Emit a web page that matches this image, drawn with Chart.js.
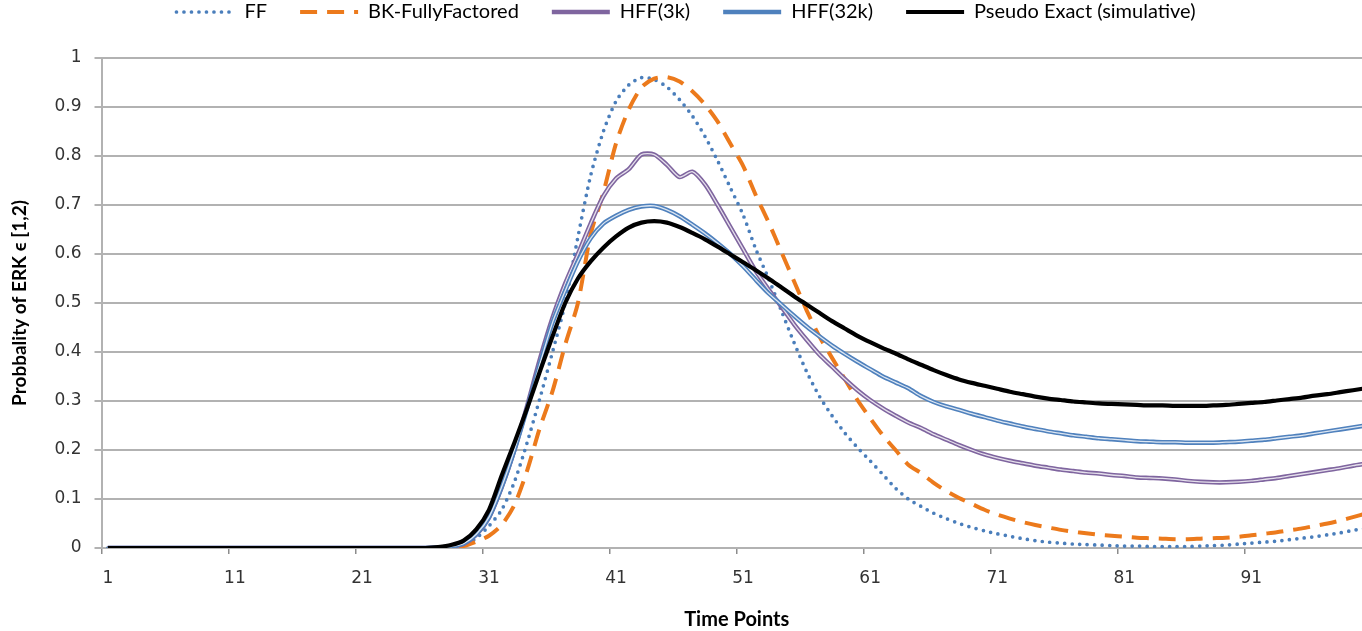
<!DOCTYPE html>
<html>
<head>
<meta charset="utf-8">
<script src="https://cdn.jsdelivr.net/npm/chart.js@4.4.1/dist/chart.umd.min.js"></script>
<style>
    html, body { margin: 0; padding: 0; background: #fff; overflow: hidden; width: 1362px; height: 631px; }
    #wrap { position: absolute; left: 0; top: -31px; width: 1380px; height: 662px; }
</style>
</head>
<body>
<div id="wrap"><canvas id="myChart" width="1380" height="662"></canvas></div>
<script>
// Dados //
const timePoints = Array.from({ length: 100 }, (_, i) => String(i + 1));

const ff = [
    0, 0, 0, 0, 0, 0, 0, 0, 0, 0,
    0, 0, 0, 0, 0, 0, 0, 0, 0, 0,
    0, 0, 0, 0, 0, 0, 0, 0.001, 0.005, 0.02,
    0.045, 0.078, 0.135, 0.215, 0.305, 0.4, 0.5, 0.635, 0.76, 0.85,
    0.912, 0.945, 0.96, 0.956, 0.941, 0.915, 0.882, 0.84, 0.79, 0.735,
    0.68, 0.61, 0.55, 0.485, 0.42, 0.36, 0.31, 0.27, 0.235, 0.205,
    0.178, 0.15, 0.122, 0.1, 0.085, 0.071, 0.06, 0.05, 0.042, 0.035,
    0.029, 0.024, 0.019, 0.015, 0.012, 0.01, 0.008, 0.007, 0.006, 0.005,
    0.004, 0.004, 0.003, 0.003, 0.003, 0.003, 0.004, 0.005, 0.006, 0.008,
    0.01, 0.012, 0.014, 0.017, 0.02, 0.023, 0.027, 0.031, 0.036, 0.04
];

const bkFullyFactored = [
    0, 0, 0, 0, 0, 0, 0, 0, 0, 0,
    0, 0, 0, 0, 0, 0, 0, 0, 0, 0,
    0, 0, 0, 0, 0, 0, 0, 0, 0.004, 0.013,
    0.025, 0.047, 0.088, 0.158, 0.245, 0.32, 0.415, 0.5, 0.64, 0.725,
    0.826, 0.895, 0.94, 0.958, 0.961, 0.952, 0.932, 0.905, 0.87, 0.825,
    0.78, 0.72, 0.665, 0.605, 0.545, 0.485, 0.432, 0.388, 0.345, 0.302,
    0.265, 0.23, 0.2, 0.17, 0.153, 0.133, 0.116, 0.102, 0.09, 0.078,
    0.068, 0.06, 0.053, 0.047, 0.042, 0.037, 0.033, 0.03, 0.027, 0.025,
    0.023, 0.021, 0.02, 0.019, 0.018, 0.018, 0.019, 0.02, 0.021, 0.023,
    0.026, 0.029, 0.032, 0.036, 0.04, 0.045, 0.05, 0.056, 0.063, 0.07
];

const hff3k = [
    0, 0, 0, 0, 0, 0, 0, 0, 0, 0,
    0, 0, 0, 0, 0, 0, 0, 0, 0, 0,
    0, 0, 0, 0, 0, 0, 0.001, 0.003, 0.008, 0.027,
    0.062, 0.124, 0.2, 0.29, 0.385, 0.47, 0.54, 0.6, 0.662, 0.718,
    0.754, 0.773, 0.803, 0.803, 0.782, 0.757, 0.768, 0.742, 0.7, 0.655,
    0.61, 0.565, 0.528, 0.493, 0.457, 0.425, 0.395, 0.37, 0.345, 0.322,
    0.302, 0.285, 0.27, 0.256, 0.245, 0.232, 0.221, 0.21, 0.2, 0.191,
    0.184, 0.178, 0.173, 0.168, 0.164, 0.16, 0.157, 0.154, 0.152, 0.149,
    0.147, 0.144, 0.143, 0.142, 0.14, 0.137, 0.135, 0.134, 0.134, 0.135,
    0.137, 0.14, 0.143, 0.147, 0.151, 0.155, 0.159, 0.163, 0.168, 0.172
];

const hff32k = [
    0, 0, 0, 0, 0, 0, 0, 0, 0, 0,
    0, 0, 0, 0, 0, 0, 0, 0, 0, 0,
    0, 0, 0, 0, 0, 0, 0.001, 0.003, 0.009, 0.028,
    0.063, 0.125, 0.2, 0.285, 0.375, 0.46, 0.525, 0.585, 0.632, 0.662,
    0.678, 0.69, 0.697, 0.698, 0.69, 0.677, 0.66, 0.642, 0.622, 0.6,
    0.575, 0.547, 0.52, 0.497, 0.474, 0.452, 0.432, 0.413, 0.396, 0.38,
    0.365, 0.35, 0.338, 0.326, 0.31, 0.298, 0.289, 0.282, 0.274, 0.267,
    0.26, 0.254, 0.248, 0.243, 0.238, 0.234, 0.23, 0.227, 0.224, 0.222,
    0.22, 0.218, 0.217, 0.216, 0.216, 0.215, 0.215, 0.215, 0.216, 0.217,
    0.219, 0.221, 0.224, 0.227, 0.23, 0.234, 0.238, 0.242, 0.246, 0.25
];

const pseudoExact = [
    0, 0, 0, 0, 0, 0, 0, 0, 0, 0,
    0, 0, 0, 0, 0, 0, 0, 0, 0, 0,
    0, 0, 0, 0, 0, 0, 0.002, 0.006, 0.015, 0.038,
    0.078, 0.148, 0.215, 0.285, 0.36, 0.432, 0.5, 0.55, 0.585, 0.613,
    0.636, 0.654, 0.664, 0.667, 0.664, 0.655, 0.643, 0.63, 0.615, 0.599,
    0.583, 0.567, 0.55, 0.532, 0.514, 0.497, 0.48, 0.463, 0.448, 0.433,
    0.42, 0.408, 0.397, 0.385, 0.374, 0.363, 0.353, 0.344, 0.337, 0.331,
    0.325, 0.319, 0.314, 0.309, 0.305, 0.302, 0.299, 0.297, 0.295, 0.294,
    0.293, 0.292, 0.291, 0.291, 0.29, 0.29, 0.29, 0.291, 0.292, 0.294,
    0.296, 0.298, 0.301, 0.304, 0.307, 0.311, 0.314, 0.318, 0.322, 0.326
];

const labelStep = 10;
const gridGray = '#B2B2B2';

// legenda mais alta, para deixar espaco ate o grafico
const legendGap = {
    id: 'legendGap',
    beforeLayout(chart) {
        const lg = chart.legend;
        if (lg && !lg._gapPatched) {
            const fit = lg.fit;
            lg.fit = function () { fit.call(this); this.height = 89; };
            lg._gapPatched = true;
        }
    }
};

// amostras da legenda com o mesmo traco das linhas
function legendLabels(chart) {
    const items = Chart.defaults.plugins.legend.labels.generateLabels(chart);
    items.forEach(it => {
        const ds = chart.data.datasets[it.datasetIndex];
        it.lineDash = ds.borderDash || [];
        it.lineCap = ds.borderCapStyle || 'butt';
        it.lineWidth = ds.borderWidth;
        it.strokeStyle = ds.borderColor;
        it.pointStyle = 'line';
    });
    return items;
}

const ctx = document.getElementById('myChart');

new Chart(ctx, {
    type: 'line',
    data: {
        labels: timePoints,
        datasets: [
            {
                label: 'FF', data: ff, order: 8,
                borderColor: '#4A7EBB', borderWidth: 3.7,
                borderDash: [0, 7.5], borderCapStyle: 'round'
            },
            {
                label: 'BK-FullyFactored', data: bkFullyFactored, order: 7,
                borderColor: '#EC7A1C', borderWidth: 4,
                borderDash: [17, 10], borderCapStyle: 'butt'
            },
            {
                label: 'HFF(3k)', data: hff3k, order: 6,
                borderColor: '#7F659F', borderWidth: 4.5
            },
            {
                label: 'inner3k', data: hff3k, order: 5,
                borderColor: 'rgba(255,255,255,0.8)', borderWidth: 1.3
            },
            {
                label: 'HFF(32k)', data: hff32k, order: 4,
                borderColor: '#4F81BD', borderWidth: 4.5
            },
            {
                label: 'inner32k', data: hff32k, order: 3,
                borderColor: 'rgba(255,255,255,0.8)', borderWidth: 1.3
            },
            {
                label: 'Pseudo Exact (simulative)', data: pseudoExact, order: 1,
                borderColor: '#000000', borderWidth: 4.2
            }
        ]
    },
    options: {
        responsive: false,
        animation: false,
        layout: { padding: { left: 0, right: 8, top: 0, bottom: 0 } },
        elements: {
            point: { radius: 0 },
            line: { tension: 0.25, fill: false }
        },
        plugins: {
            tooltip: { enabled: false },
            legend: {
                position: 'top',
                labels: {
                    color: '#000',
                    font: { family: 'Lato', size: 20 },
                    padding: 33,
                    usePointStyle: true,
                    pointStyle: 'line',
                    pointStyleWidth: 58,
                    generateLabels: legendLabels,
                    filter: item => item.text.indexOf('inner') !== 0,
                    sort: (a, b) => a.datasetIndex - b.datasetIndex
                }
            }
        },
        scales: {
            x: {
                offset: true,
                afterFit: s => { s.height = 83; },
                grid: {
                    offset: true,
                    drawOnChartArea: false,
                    tickLength: 6,
                    lineWidth: 1.5,
                    color: c => (c.index % labelStep === 0 ? '#8C8C8C' : 'rgba(0,0,0,0)')
                },
                border: { color: gridGray, width: 2 },
                ticks: {
                    autoSkip: false,
                    maxRotation: 0,
                    padding: 14,
                    color: '#333',
                    font: { family: 'DejaVu Sans', size: 17 },
                    callback: function (v, i) { return i % labelStep === 0 ? this.getLabelForValue(v) : ''; }
                },
                title: {
                    display: true,
                    text: 'Time Points',
                    color: '#000',
                    font: { family: 'Lato', size: 20, weight: 'bold', lineHeight: 1.1 },
                    padding: { top: 0, bottom: 0 }
                }
            },
            y: {
                min: 0,
                max: 1,
                afterFit: s => { s.width = 101.5; },
                ticks: {
                    stepSize: 0.1,
                    padding: 13,
                    color: '#333',
                    font: { family: 'DejaVu Sans', size: 17 },
                    callback: v => String(Math.round(v * 10) / 10)
                },
                grid: { color: gridGray, lineWidth: 2, tickLength: 7 },
                border: { color: gridGray, width: 2 },
                title: {
                    display: true,
                    text: 'Probbality of ERK ϵ [1,2)',
                    color: '#000',
                    font: { family: 'Lato', size: 19, weight: 'bold', lineHeight: 1.1 },
                    padding: { top: 9, bottom: 0 }
                }
            }
        }
    },
    plugins: [legendGap]
});
    // fim //
</script>
</body>
</html>
